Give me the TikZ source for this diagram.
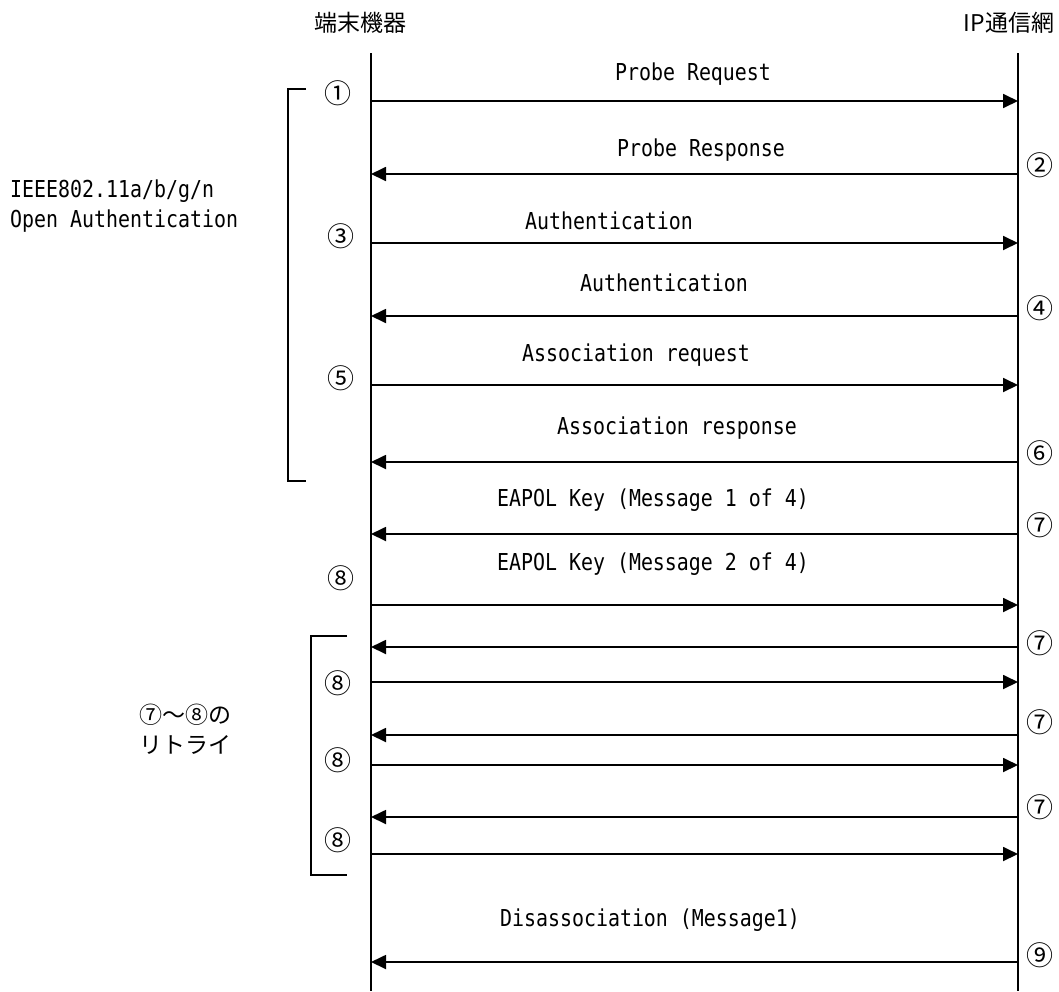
\documentclass[tikz,border=0pt]{standalone}
\usepackage{fontspec}
\usetikzlibrary{arrows.meta}
\newfontfamily\jpf{Noto Sans CJK JP}
\newfontfamily\latf[FakeStretch=0.855]{DejaVu Sans Mono}
\begin{document}
\begin{tikzpicture}[x=1pt,y=-1pt,
  life/.style={line width=2pt},
  msg/.style={line width=1.8pt,-{Triangle[length=15pt,width=14pt]}},
  brk/.style={line width=1.5pt},
  lbl/.style={font=\latf\fontsize{23.3}{30}\selectfont, inner sep=0pt},
  num/.style={font=\jpf\fontsize{27}{30}\selectfont, inner sep=0pt},
  jp/.style={font=\jpf\fontsize{23}{30}\selectfont, inner sep=0pt, align=center},
]
\useasboundingbox (0,0) rectangle (1059,991);
% headers
\node[jp] (hdrA) at (360,23) {端末機器};
\node[jp] (hdrB) at (1009,23) {IP通信網};
% lifelines
\coordinate (LT) at (371,53); \coordinate (LB) at (371,991);
\coordinate (RT) at (1018,53); \coordinate (RB) at (1018,991);
\draw[life] (LT) -- (LB);
\draw[life] (RT) -- (RB);
% message end points
\foreach \n/\y in {1/101,2/174,3/243,4/316,5/385,6/462,7/534,8/605,9/647,10/682,11/735,12/765,13/817,14/854,15/962}{
  \coordinate (L\n) at (371,\y);
  \coordinate (R\n) at (1018,\y);
}
% messages
\draw[msg] (L1) -- (R1);
\draw[msg] (R2) -- (L2);
\draw[msg] (L3) -- (R3);
\draw[msg] (R4) -- (L4);
\draw[msg] (L5) -- (R5);
\draw[msg] (R6) -- (L6);
\draw[msg] (R7) -- (L7);
\draw[msg] (L8) -- (R8);
\draw[msg] (R9) -- (L9);
\draw[msg] (L10) -- (R10);
\draw[msg] (R11) -- (L11);
\draw[msg] (L12) -- (R12);
\draw[msg] (R13) -- (L13);
\draw[msg] (L14) -- (R14);
\draw[msg] (R15) -- (L15);
% message labels
\node[lbl] (m1) at (693,74) {Probe Request};
\node[lbl] (m2) at (701,150) {Probe Response};
\node[lbl] (m3) at (609,221) {Authentication};
\node[lbl] (m4) at (664,283) {Authentication};
\node[lbl] (m5) at (636,355) {Association request};
\node[lbl] (m6) at (677,428) {Association response};
\node[lbl] (m7) at (653,500) {EAPOL Key (Message 1 of 4)};
\node[lbl] (m8) at (653,564) {EAPOL Key (Message 2 of 4)};
\node[lbl] (m15) at (650,920) {Disassociation (Message1)};
% step numbers left
\node[num] (n1) at (338,93) {①};
\node[num] (n3) at (341,236) {③};
\node[num] (n5) at (341,378) {⑤};
\node[num] (n8) at (341,578) {⑧};
\node[num] (n8a) at (338,683) {⑧};
\node[num] (n8b) at (338,760) {⑧};
\node[num] (n8c) at (338,840) {⑧};
% step numbers right
\node[num] (n2) at (1040,165) {②};
\node[num] (n4) at (1040,308) {④};
\node[num] (n6) at (1040,453) {⑥};
\node[num] (n7) at (1040,525) {⑦};
\node[num] (n7a) at (1040,643) {⑦};
\node[num] (n7b) at (1040,722) {⑦};
\node[num] (n7c) at (1040,807) {⑦};
\node[num] (n9) at (1040,955) {⑨};
% brackets
\draw[brk] (306,89) -- (288,89) -- (288,481) -- (306,481);
\draw[brk] (347,636) -- (311,636) -- (311,875) -- (347,875);
% side labels
\node[lbl, anchor=west, align=left] (side1) at (10,206) {IEEE802.11a/b/g/n\\Open Authentication};
\node[jp] (side2) at (185,729) {⑦～⑧の\\リトライ};
\end{tikzpicture}
\end{document}
